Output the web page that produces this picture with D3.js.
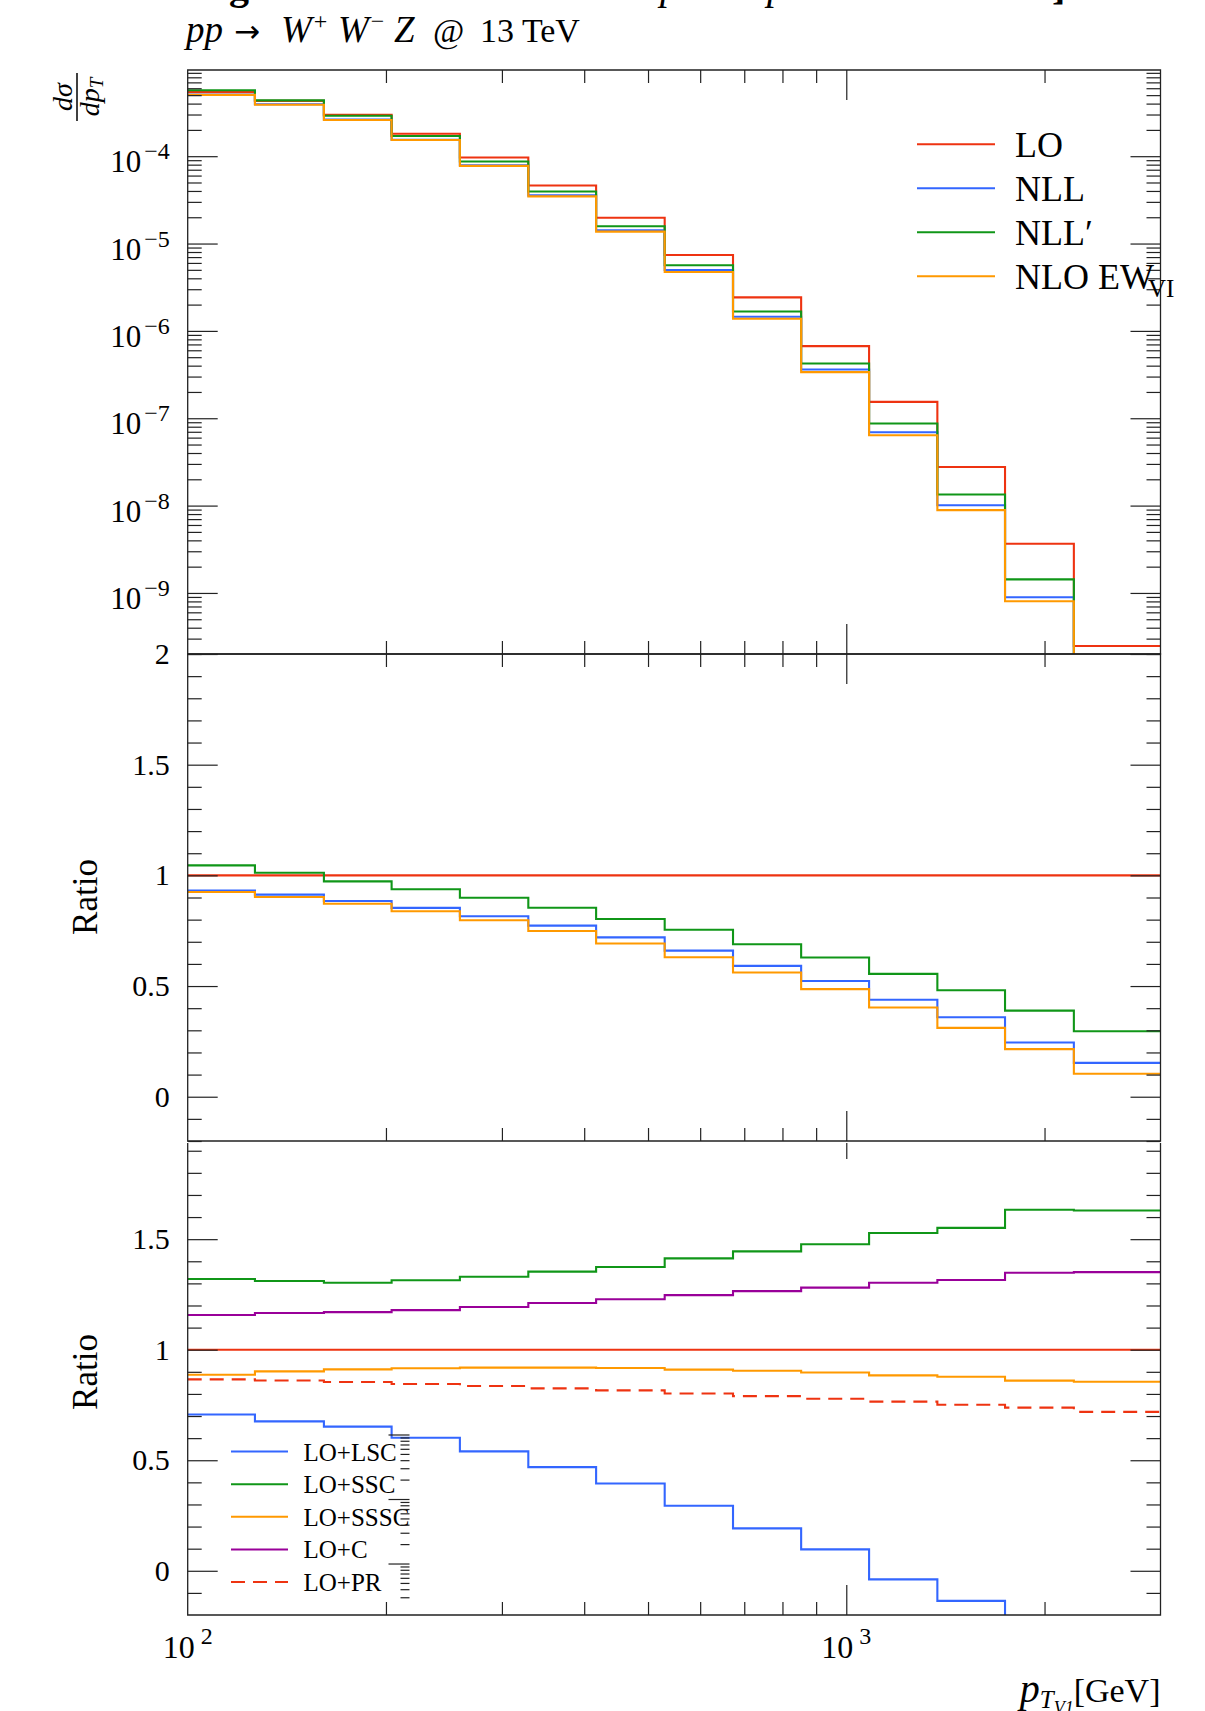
<!DOCTYPE html>
<html>
<head>
<meta charset="utf-8">
<script src="https://cdn.jsdelivr.net/npm/d3@7"></script>
<style>
  body { margin: 0; background: #fff; }
  svg text { font-family: "Liberation Serif", "Times New Roman", serif; fill: #000; }
</style>
</head>
<body>
<div id="chart"></div>
<script>
// bin edges in GeV
const binEdges = [100, 126.5, 161, 204, 259, 329, 417, 530, 673, 854, 1083, 1375, 1742, 2216, 3000];

// top panel: dsigma/dpT
const xsLO   = [5.45e-4, 4.3e-4, 2.98e-4, 1.81e-4, 9.66e-5, 4.61e-5, 1.97e-5, 7.40e-6, 2.42e-6, 6.70e-7, 1.54e-7, 2.77e-8, 3.66e-9, 2.47e-10];
const xsNLL  = [5.07e-4, 3.93e-4, 2.63e-4, 1.54e-4, 7.87e-5, 3.56e-5, 1.42e-5, 4.98e-6, 1.45e-6, 3.61e-7, 6.90e-8, 1.01e-8, 8.93e-10, 3.8e-11];
const xsNLLp = [5.68e-4, 4.35e-4, 2.90e-4, 1.70e-4, 8.70e-5, 3.95e-5, 1.58e-5, 5.64e-6, 1.67e-6, 4.24e-7, 8.69e-8, 1.34e-8, 1.43e-9, 7.3e-11];
const xsNLO  = [5.03e-4, 3.88e-4, 2.60e-4, 1.53e-4, 7.75e-5, 3.47e-5, 1.37e-5, 4.72e-6, 1.38e-6, 3.37e-7, 6.38e-8, 8.88e-9, 8.04e-10, 2.6e-11];

// middle panel: ratio to LO
const rLO   = [1, 1, 1, 1, 1, 1, 1, 1, 1, 1, 1, 1, 1, 1];
const rNLL  = [0.931, 0.913, 0.884, 0.853, 0.815, 0.773, 0.720, 0.660, 0.591, 0.523, 0.438, 0.359, 0.245, 0.153];
const rNLLp = [1.045, 1.012, 0.973, 0.937, 0.899, 0.854, 0.803, 0.754, 0.689, 0.629, 0.555, 0.481, 0.389, 0.296];
const rNLO  = [0.925, 0.902, 0.872, 0.838, 0.797, 0.749, 0.692, 0.630, 0.561, 0.486, 0.403, 0.311, 0.215, 0.104];

// bottom panel: single contributions over LO
const rLSC  = [0.707, 0.676, 0.652, 0.602, 0.540, 0.469, 0.395, 0.294, 0.192, 0.097, -0.039, -0.136, -0.30, -0.45];
const rSSC  = [1.320, 1.311, 1.303, 1.314, 1.330, 1.353, 1.374, 1.413, 1.445, 1.477, 1.528, 1.551, 1.633, 1.630];
const rSSSC = [0.887, 0.902, 0.911, 0.916, 0.919, 0.919, 0.917, 0.910, 0.905, 0.897, 0.884, 0.878, 0.860, 0.855];
const rC    = [1.157, 1.166, 1.170, 1.179, 1.193, 1.211, 1.228, 1.247, 1.265, 1.281, 1.303, 1.315, 1.348, 1.351];
const rPR   = [0.866, 0.861, 0.854, 0.845, 0.836, 0.825, 0.816, 0.802, 0.790, 0.778, 0.765, 0.751, 0.738, 0.719];

const RED = "#ee3311", BLUE = "#3366ff", GREEN = "#109618", ORANGE = "#ff9900", PURPLE = "#990099";

let width = 1205, height = 1711,
    left = 187.7, right = 1160.5;

const svg = d3.select("#chart")
  .append("svg")
  .attr("width", width)
  .attr("height", height);

const x = d3.scaleLog().domain([100, 3000]).range([left, right]);

const yMain = d3.scaleLog().domain([2e-10, 9.7e-4]).range([654, 70]);
const yRatio = d3.scaleLinear().domain([-0.2, 2]).range([1141, 654]);
const yComp = d3.scaleLinear().domain([-0.2, 1.935]).range([1615, 1143]);

const isDecade = d => Math.abs(Math.log10(d) - Math.round(Math.log10(d))) < 1e-6;

function stepData(vals) {
  let pts = vals.map((v, i) => [binEdges[i], v]);
  pts.push([binEdges[binEdges.length - 1], vals[vals.length - 1]]);
  return pts;
}

function clean(g) {
  g.select(".domain").remove();
  g.selectAll(".tick line").attr("stroke", "#222").attr("stroke-width", 1.2);
}

// x ticks on top/bottom of a panel
let xAll = x.ticks().filter(d => d > 100 && d < 3000);
let xMajor = xAll.filter(isDecade), xMinor = xAll.filter(d => !isDecade(d));

function xTicks(top, bottom, topMinor, topMajorLen) {
  svg.append("g").attr("transform", `translate(0,${bottom})`)
    .call(d3.axisBottom(x).tickValues(xMinor).tickSize(-13).tickFormat(""))
    .call(clean);
  svg.append("g").attr("transform", `translate(0,${bottom})`)
    .call(d3.axisBottom(x).tickValues(xMajor).tickSize(-30).tickFormat(""))
    .call(clean);
  if (topMinor) {
    svg.append("g").attr("transform", `translate(0,${top})`)
      .call(d3.axisTop(x).tickValues(xMinor).tickSize(-13).tickFormat(""))
      .call(clean);
  }
  svg.append("g").attr("transform", `translate(0,${top})`)
    .call(d3.axisTop(x).tickValues(xMajor).tickSize(-topMajorLen).tickFormat(""))
    .call(clean);
}

function yTicks(y, majors, minors, fmt, fontSize) {
  let lab = svg.append("g").attr("transform", `translate(${left},0)`)
    .call(d3.axisLeft(y).tickValues(majors).tickSizeInner(-30).tickSizeOuter(0).tickPadding(18).tickFormat(fmt))
    .call(clean)
    .attr("font-family", null).attr("font-size", fontSize);
  svg.append("g").attr("transform", `translate(${left},0)`)
    .call(d3.axisLeft(y).tickValues(minors).tickSize(-14).tickFormat(""))
    .call(clean);
  svg.append("g").attr("transform", `translate(${right},0)`)
    .call(d3.axisRight(y).tickValues(majors).tickSize(-30).tickFormat(""))
    .call(clean);
  svg.append("g").attr("transform", `translate(${right},0)`)
    .call(d3.axisRight(y).tickValues(minors).tickSize(-14).tickFormat(""))
    .call(clean);
  return lab;
}

function panel(id, y, top, bottom, series, drawTop) {
  svg.append("clipPath").attr("id", id)
    .append("rect").attr("x", left).attr("y", top).attr("width", right - left).attr("height", bottom - top);
  let g = svg.append("g").attr("clip-path", `url(#${id})`);
  let line = d3.line().curve(d3.curveStepAfter)
    .x(d => x(d[0]))
    .y(d => Math.max(-5000, Math.min(5000, y(d[1]))));
  for (let s of series) {
    g.append("path")
      .datum(stepData(s.values))
      .attr("fill", "none")
      .attr("stroke", s.color)
      .attr("stroke-width", 2.1)
      .attr("stroke-dasharray", s.dash || null)
      .attr("d", line);
  }
  // frame (top edge optional so stacked panels don't double up)
  let frame = drawTop
    ? `M${left},${bottom}V${top}H${right}V${bottom}Z`
    : `M${left},${top}V${bottom}H${right}V${top}`;
  svg.append("path").attr("d", frame)
    .attr("fill", "none").attr("stroke", "#222").attr("stroke-width", 1.3);
}

// ---- main panel
panel("clipMain", yMain, 70, 654, [
  { values: xsLO, color: RED },
  { values: xsNLL, color: BLUE },
  { values: xsNLLp, color: GREEN },
  { values: xsNLO, color: ORANGE }
], true);
let mainAll = yMain.ticks();
let mainLab = yTicks(yMain, mainAll.filter(isDecade), mainAll.filter(d => !isDecade(d)), () => "", 31);
mainLab.selectAll(".tick text").attr("dy", "0.5em").each(function (d) {
  let t = d3.select(this);
  t.append("tspan").text("10");
  t.append("tspan").attr("dx", 3).attr("dy", -13).attr("font-size", 24).text("\u2212" + (-Math.round(Math.log10(d))));
});
xTicks(70, 654, true, 30);

// ---- ratio panel
panel("clipRatio", yRatio, 654, 1141, [
  { values: rLO, color: RED },
  { values: rNLL, color: BLUE },
  { values: rNLLp, color: GREEN },
  { values: rNLO, color: ORANGE }
], true);
let rMinor = d3.range(-2, 20).map(i => i / 10).filter(d => Math.round(d * 10) % 5 !== 0);
yTicks(yRatio, [0, 0.5, 1, 1.5, 2], rMinor, d3.format(""), 30);
xTicks(654, 1141, true, 30);

// ---- contributions panel
panel("clipComp", yComp, 1143, 1615, [
  { values: rLO, color: RED },
  { values: rLSC, color: BLUE },
  { values: rSSC, color: GREEN },
  { values: rSSSC, color: ORANGE },
  { values: rC, color: PURPLE },
  { values: rPR, color: RED, dash: "14,8" }
], false);
let cMinor = d3.range(-1, 20).map(i => i / 10).filter(d => Math.round(d * 10) % 5 !== 0);
yTicks(yComp, [0, 0.5, 1, 1.5], cMinor, d3.format(""), 30);
xTicks(1143, 1615, false, 16);

// x tick labels 10^2, 10^3
for (let d of xMajor.concat([100])) {
  let t = svg.append("text")
    .attr("x", x(d)).attr("y", 1658)
    .attr("text-anchor", "middle")
    .attr("font-size", 32);
  t.append("tspan").text("10");
  t.append("tspan").attr("dy", -14).attr("dx", 6).attr("font-size", 24).text(Math.round(Math.log10(d)));
}

// x axis title
let xt = svg.append("text").attr("x", right).attr("y", 1702).attr("text-anchor", "end").attr("font-size", 34);
xt.append("tspan").attr("font-style", "italic").attr("font-size", 40).text("p");
xt.append("tspan").attr("font-style", "italic").attr("font-size", 25).attr("dy", 6).text("T");
xt.append("tspan").attr("font-style", "italic").attr("font-size", 18).attr("dy", 6).text("V1");
xt.append("tspan").attr("dy", -12).text("[GeV]");

// y titles
let yl = svg.append("g").attr("transform", "translate(77,97) rotate(-90)");
yl.append("text").attr("x", 0).attr("y", -5).attr("text-anchor", "middle")
  .attr("font-size", 28).attr("font-style", "italic").text("dσ");
yl.append("line").attr("x1", -24).attr("x2", 24).attr("y1", 0).attr("y2", 0)
  .attr("stroke", "#000").attr("stroke-width", 1.5);
let den = yl.append("text").attr("x", 0).attr("y", 22).attr("text-anchor", "middle")
  .attr("font-size", 28).attr("font-style", "italic");
den.append("tspan").text("dp");
den.append("tspan").attr("font-size", 19).attr("dy", 4).text("T");

for (let cy of [897, 1372]) {
  svg.append("text")
    .attr("transform", `translate(85,${cy}) rotate(-90)`)
    .attr("text-anchor", "middle")
    .attr("dominant-baseline", "central")
    .attr("font-size", 35)
    .text("Ratio");
}

// process title
let title = svg.append("text").attr("y", 42).attr("font-size", 34);
title.append("tspan").attr("x", 186).attr("font-style", "italic").attr("font-size", 37).text("pp");
title.append("tspan").attr("x", 234).attr("font-family", "DejaVu Sans").attr("font-size", 31).text("→");
title.append("tspan").attr("x", 281).attr("font-style", "italic").attr("font-size", 37).text("W");
title.append("tspan").attr("dx", 2).attr("dy", -13).attr("font-size", 24).text("+");
title.append("tspan").attr("x", 338).attr("dy", 13).attr("font-style", "italic").attr("font-size", 37).text("W");
title.append("tspan").attr("dx", 2).attr("dy", -13).attr("font-size", 24).text("−");
title.append("tspan").attr("x", 394).attr("dy", 13).attr("font-style", "italic").attr("font-size", 37).text("Z");
title.append("tspan").attr("x", 433).text("@");
title.append("tspan").attr("x", 480).text("13 TeV");

// clipped heading above the canvas
let cut = svg.append("text").attr("y", -1).attr("font-size", 40);
cut.append("tspan").attr("x", 229).attr("font-weight", "bold").text("g");
cut.append("tspan").attr("x", 660).attr("font-style", "italic").text("p");
cut.append("tspan").attr("x", 767).attr("font-style", "italic").text("p");
cut.append("tspan").attr("x", 1052).attr("font-weight", "bold").text("]");

// legend, top panel
const mainLegend = [
  { label: "LO", color: RED },
  { label: "NLL", color: BLUE },
  { label: "NLL′", color: GREEN },
  { label: "NLO EW", sub: "VI", color: ORANGE }
];
mainLegend.forEach((s, i) => {
  let ly = 144.2 + i * 44;
  svg.append("line").attr("x1", 917).attr("x2", 995).attr("y1", ly).attr("y2", ly)
    .attr("stroke", s.color).attr("stroke-width", 2);
  let t = svg.append("text").attr("x", 1015).attr("y", ly + 13).attr("font-size", 36).text(s.label);
  if (s.sub) t.append("tspan").attr("dx", -6).attr("dy", 8).attr("font-size", 25).text(s.sub);
});

// legend, bottom panel
const compLegend = [
  { label: "LO+LSC", color: BLUE },
  { label: "LO+SSC", color: GREEN },
  { label: "LO+SSSC", color: ORANGE },
  { label: "LO+C", color: PURPLE },
  { label: "LO+PR", color: RED, dash: "14,8" }
];
compLegend.forEach((s, i) => {
  let ly = 1451.6 + i * 32.6;
  svg.append("line").attr("x1", 231).attr("x2", 288).attr("y1", ly).attr("y2", ly)
    .attr("stroke", s.color).attr("stroke-width", 2).attr("stroke-dasharray", s.dash || null);
  svg.append("text").attr("x", 303.5).attr("y", ly + 9).attr("font-size", 25).text(s.label);
});

// stray log tick strip inside the lower legend
const miniLog = d3.scaleLog().domain([Math.pow(10, -2.55), 1]).range([1599, 1434.5]);
let miniAll = miniLog.ticks();
svg.append("g").attr("transform", "translate(409.5,0)")
  .call(d3.axisLeft(miniLog).tickValues(miniAll.filter(isDecade)).tickSize(21).tickFormat(""))
  .call(clean);
svg.append("g").attr("transform", "translate(409.5,0)")
  .call(d3.axisLeft(miniLog).tickValues(miniAll.filter(d => !isDecade(d))).tickSize(9).tickFormat(""))
  .call(clean);
</script>
</body>
</html>
